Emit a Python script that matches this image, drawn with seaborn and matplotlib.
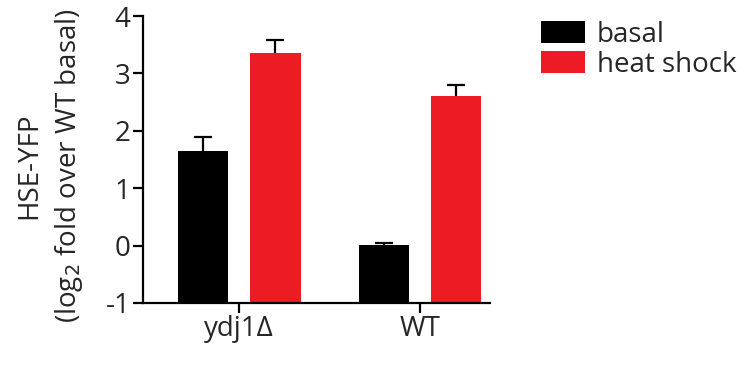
import matplotlib
matplotlib.use("Agg")
import matplotlib.pyplot as plt
from matplotlib.patches import Patch
import numpy as np
import pandas as pd
import seaborn as sns

strains = ["ydj1Δ", "WT"]
conditions = ["basal", "heat shock"]
basal = [1.64, 0.01]
heat_shock = [3.36, 2.61]
basal_err = [0.26, 0.03]
heat_err = [0.23, 0.19]
colors = ["#000000", "#ED1C24"]
baseline = -1

sns.set_style("white")
plt.rcParams["font.family"] = ["Open Sans", "DejaVu Sans"]

df = pd.DataFrame({
    "strain": strains * 2,
    "condition": [conditions[0]] * 2 + [conditions[1]] * 2,
    "value": basal + heat_shock,
})

fig = plt.figure(figsize=(7.48, 3.65), dpi=100)
ax = fig.add_axes([0.191, 0.170, 0.464, 0.786])

sns.barplot(data=df, x="strain", y="value", hue="condition", hue_order=conditions,
            palette=colors, width=0.8, gap=0.3, errorbar=None, legend=False,
            saturation=1, ax=ax, linewidth=0, zorder=2)

# bars start at the bottom of the axis (-1), like the original graph
for p in ax.patches:
    h = p.get_height()
    p.set_y(baseline)
    p.set_height(h - baseline)

# upper error bars only, drawn behind the bars
offs = [-0.2, 0.2]
for i, (vals, errs) in enumerate([(basal, basal_err), (heat_shock, heat_err)]):
    xs = np.arange(len(strains)) + offs[i]
    eb = ax.errorbar(xs, vals, yerr=[np.zeros(len(errs)), errs], fmt="none",
                     ecolor="black", elinewidth=1.6, capsize=6.5, capthick=1.6,
                     zorder=1)
    # hide the cap sitting on the bar top
    for cap in eb[1]:
        if np.allclose(cap.get_ydata(), vals):
            cap.set_visible(False)

ax.set_ylim(-1, 4)
ax.set_xlim(-0.533, 1.387)
ax.set_yticks([-1, 0, 1, 2, 3, 4])
ax.set_yticklabels(["-1", "0", "1", "2", "3", "4"])
ax.set_xlabel("")
ax.set_ylabel("")

# two-line y label, set by hand for the wide line gap
fig.text(0.039, 0.545, "HSE-YFP", rotation=90, ha="center", va="center", fontsize=20)
fig.text(0.092, 0.545, "(log$_2$ fold over WT basal)", rotation=90, ha="center",
         va="center", fontsize=20)

sns.despine(ax=ax)
for s in ["left", "bottom"]:
    ax.spines[s].set_linewidth(1.6)
    ax.spines[s].set_color("black")
ax.tick_params(axis="both", which="both", direction="out", length=7, width=1.6,
               color="black", labelsize=20, left=True, bottom=True, pad=2)

handles = [Patch(facecolor=c, edgecolor="none") for c in colors]
fig.legend(handles, conditions, loc="upper left", bbox_to_anchor=(0.723, 0.943),
           frameon=False, fontsize=20, handlelength=1.58, handleheight=0.83,
           handletextpad=0.43, labelspacing=0.08, borderpad=0, borderaxespad=0)

fig.savefig("out.png", dpi=100)
